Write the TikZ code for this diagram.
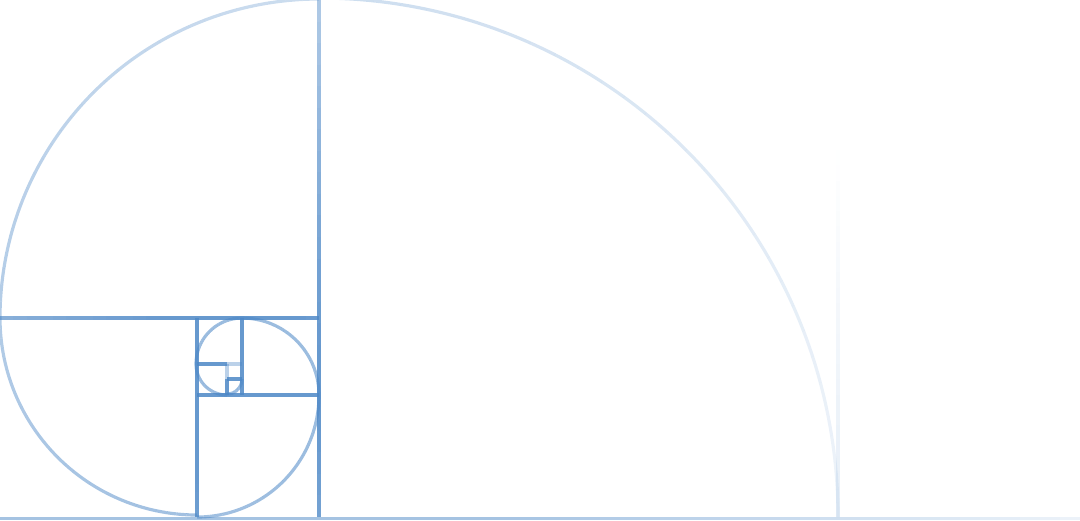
\documentclass[tikz,border=0pt]{standalone}
\definecolor{spiralblue}{HTML}{4C87C6}
\tikzset{
  gridline/.style  = {draw=spiralblue, line width=1pt},
  spiralarc/.style = {draw=spiralblue, line width=0.9pt},
}
%% opacity falls off with the distance to the eye of the spiral (230,390)
\newcommand{\fadeline}[6]{% x1, y1, x2, y2, strength, floor
  \foreach \k in {1,...,24}{%
    \pgfmathsetmacro\xa{(#1)+((#3)-(#1))/24*(\k-1)}%
    \pgfmathsetmacro\ya{(#2)+((#4)-(#2))/24*(\k-1)}%
    \pgfmathsetmacro\xb{(#1)+((#3)-(#1))/24*\k}%
    \pgfmathsetmacro\yb{(#2)+((#4)-(#2))/24*\k}%
    \pgfmathsetmacro\dd{100*veclen(((\xa+\xb)/2-230)/100,((\ya+\yb)/2-390)/100)}%
    \pgfmathsetmacro\op{max(#6,(#5)*min(0.85,0.98-0.00135*\dd))}%
    \draw[gridline, draw opacity=\op] (\xa,\ya) -- (\xb,\yb);
  }}
\newcommand{\fadearc}[6]{% cx, cy, r, from, to, strength
  \foreach \k in {1,...,30}{%
    \pgfmathsetmacro\ta{(#4)+((#5)-(#4))/30*(\k-1)}%
    \pgfmathsetmacro\tb{(#4)+((#5)-(#4))/30*\k}%
    \pgfmathsetmacro\xs{(#1)+(#3)*cos(\ta)}%
    \pgfmathsetmacro\ys{(#2)+(#3)*sin(\ta)}%
    \pgfmathsetmacro\xm{(#1)+(#3)*cos((\ta+\tb)/2)}%
    \pgfmathsetmacro\ym{(#2)+(#3)*sin((\ta+\tb)/2)}%
    \pgfmathsetmacro\dd{100*veclen((\xm-230)/100,(\ym-390)/100)}%
    \pgfmathsetmacro\op{max(0,(#6)*min(0.85,0.98-0.00135*\dd))}%
    \draw[spiralarc, draw opacity=\op] (\xs,\ys) arc[start angle=\ta, end angle=\tb, radius=#3];
  }}
\begin{document}
\begin{tikzpicture}[x=0.01cm, y=-0.01cm]
\useasboundingbox (0,0) rectangle (1080,520);

%% --- base line and right edge, own fades -------------------------------
\foreach \k in {1,...,54}{
  \pgfmathsetmacro\xa{20*(\k-1)}
  \pgfmathsetmacro\xb{20*\k}
  \pgfmathsetmacro\op{min(0.5,0.5-((\xa+\xb)/2-500)*0.4/580)}
  \draw[gridline, draw opacity=\op] (\xa,518.5) -- (\xb,518.5);
}
\foreach \k in {1,...,24}{
  \pgfmathsetmacro\ya{150+(367/24)*(\k-1)}
  \pgfmathsetmacro\yb{150+(367/24)*\k}
  \pgfmathsetmacro\op{0.14*((\ya+\yb)/2-150)/367}
  \draw[gridline, draw opacity=\op] (838,\ya) -- (838,\yb);
}

%% --- squares -----------------------------------------------------------
\fadeline{319}{0}{319}{517}{1}{0.04}
\fadeline{0}{318}{319}{318}{1}{0.04}
\fadeline{197}{318}{197}{517}{1}{0.04}
\fadeline{197}{395}{319}{395}{1}{0.04}
\draw[gridline, draw opacity=0.85] (242,318) -- (242,395);
\draw[gridline, draw opacity=0.85] (197,364) -- (227,364);
\draw[gridline, draw opacity=0.38] (227,364) -- (242,364);
\draw[gridline, draw opacity=0.38] (227,364) -- (227,379);
\draw[gridline, draw opacity=0.85] (227,379) -- (227,395);
\draw[gridline, draw opacity=0.85] (227,379) -- (242,379);

%% --- spiral ------------------------------------------------------------
\fadearc{319}{517}{519}{0}{-90}{0.65}
\fadearc{319}{318}{319}{-90}{-180}{0.65}
\fadearc{197}{318}{197}{-180}{-270}{0.65}
\fadearc{197}{395}{122}{90}{0}{0.65}
\fadearc{242}{395}{77}{0}{-90}{0.65}
\fadearc{242}{364}{46}{-90}{-180}{0.65}
\fadearc{227}{364}{31}{180}{90}{0.65}
\fadearc{227}{379}{15}{90}{0}{0.65}

\end{tikzpicture}
\end{document}
